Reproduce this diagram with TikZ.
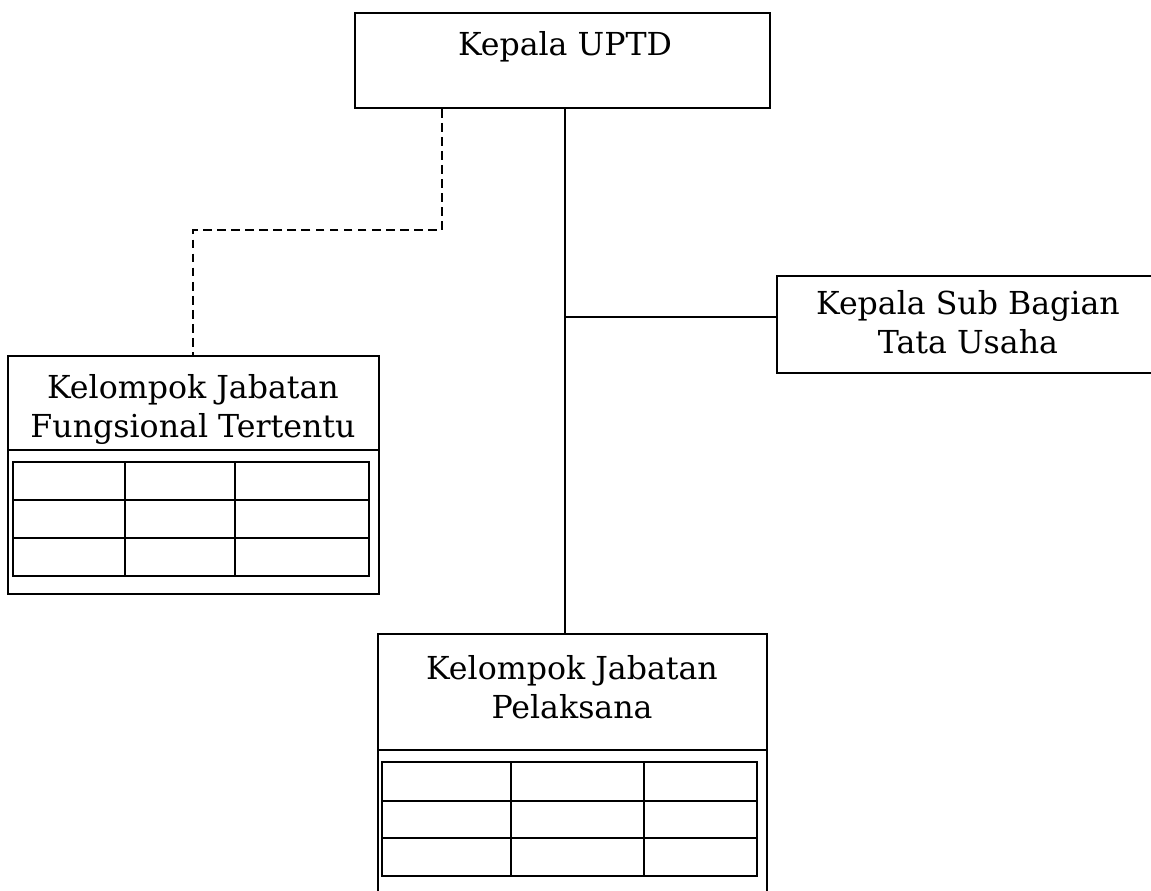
\documentclass[tikz,border=0pt]{standalone}
\usepackage{fontspec}
\setmainfont{DejaVu Serif}
\usetikzlibrary{calc}
\tikzset{
    unit/.style={draw,line width=1pt,inner sep=0pt,anchor=north west},
    jabtext/.style={anchor=north,inner sep=0pt,align=center,font=\fontsize{18}{22}\selectfont},
    dashline/.style={line width=1pt,dash pattern=on 5pt off 3pt},
    tabline/.style={line width=1.6pt}
}
\begin{document}
\begin{tikzpicture}[x=0.02cm,y=-0.02cm,line width=1pt]
\useasboundingbox (0,0) rectangle (1151,890);

\node[unit,minimum width=8.3cm,minimum height=1.9cm] (UPTD) at (354,12) {};
\node[unit,minimum width=7.72cm,minimum height=1.94cm] (SubBag) at (776,275) {};
\node[unit,minimum width=7.42cm,minimum height=4.76cm] (KJF) at (7,355) {};
\node[unit,minimum width=7.78cm,minimum height=5.2cm] (KJP) at (377,633) {};

\node[jabtext] (tUPTD) at (565,31) {Kepala UPTD};
\node[jabtext] (tSubBag) at (968,290) {Kepala Sub Bagian\\Tata Usaha};
\node[jabtext] (tKJF) at (193,374) {Kelompok Jabatan\\Fungsional Tertentu};
\node[jabtext] (tKJP) at (572,655) {Kelompok Jabatan\\Pelaksana};

\coordinate (trunk) at (565,317);
\coordinate (bend) at (442,230);
\draw (UPTD.south -| trunk) -- (KJP.north -| trunk);
\draw (trunk) -- (trunk -| SubBag.west);
\draw[dashline] (UPTD.south -| bend) -- (bend) -| (KJF.north);

% fungsional
\draw (KJF.west |- 0,450) -- (KJF.east |- 0,450);
\draw[tabline] (13,462) rectangle (369,576);
\draw[tabline] (13,500) -- (369,500);
\draw[tabline] (13,538) -- (369,538);
\draw[tabline] (125,462) -- (125,576);
\draw[tabline] (235,462) -- (235,576);

% pelaksana
\draw (KJP.west |- 0,750) -- (KJP.east |- 0,750);
\draw[tabline] (382,762) rectangle (757,876);
\draw[tabline] (382,801) -- (757,801);
\draw[tabline] (382,838) -- (757,838);
\draw[tabline] (511,762) -- (511,876);
\draw[tabline] (644,762) -- (644,876);
\end{tikzpicture}
\end{document}
